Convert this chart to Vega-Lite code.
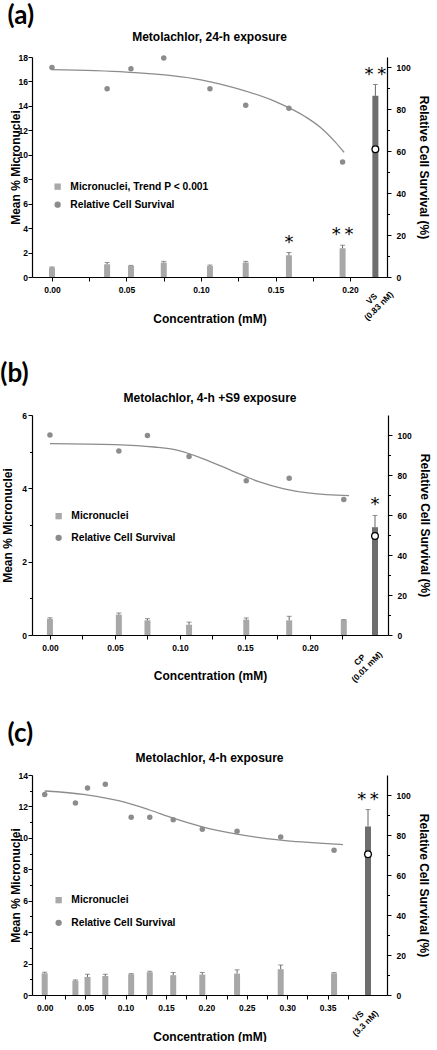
{
"$schema": "https://vega.github.io/schema/vega-lite/v6.json",
"padding": {"left": 0, "top": 3, "right": 0, "bottom": 0},
"background": "white",
"config": {
  "font": "Liberation Sans",
  "view": {"stroke": null},
  "axis": {"labelFont": "Liberation Sans", "labelFontWeight": "bold", "labelFontSize": 8.5, "labelColor": "#000", "titleFont": "Liberation Sans", "titleFontWeight": "bold", "titleFontSize": 12, "titleColor": "#000", "domainColor": "#000", "domainWidth": 1.2, "tickColor": "#000", "tickWidth": 1, "tickSize": 4, "grid": false, "labelFlush": false, "labelOverlap": false},
  "title": {"font": "Liberation Sans", "fontWeight": "bold", "fontSize": 12, "color": "#000"},
  "legend": {"title": null, "labelFont": "Liberation Sans", "labelFontWeight": "bold", "labelFontSize": 10.3, "labelColor": "#000", "symbolSize": 40, "labelOffset": 7.5, "padding": 0, "symbolStrokeWidth": 0, "symbolOpacity": 1}
},
"spacing": 36,
"resolve": {"scale": {"color": "independent", "shape": "independent"}},
"vconcat": [
 {
  "title": {"text": "(a)", "anchor": "start", "frame": "bounds", "font": "Lato", "fontSize": 26, "fontWeight": "bold", "offset": 2, "dx": -1.5},
  "resolve": {"scale": {"color": "independent", "shape": "independent"}},
  "vconcat": [
   {
    "title": {"text": "Metolachlor, 24-h exposure", "frame": "group", "offset": 9},
    "width": 355, "height": 220,
    "encoding": {"x": {"field": "conc", "type": "quantitative", "scale": {"domain": [-0.0134, 0.2248], "nice": false, "zero": false, "padding": 0}, "axis": {"values": [0, 0.025, 0.05, 0.075, 0.1, 0.125, 0.15, 0.175, 0.2], "tickCount": 100, "format": ".2f", "labelExpr": "round(datum.value*1000) % 50 === 0 ? datum.label : ''", "labelOverlap": false, "title": "Concentration (mM)", "titlePadding": 20, "labelPadding": 4}}},
    "resolve": {"scale": {"y": "independent"}},
    "layer": [
     {
      "data": {"values": [
        {"conc": 0, "mn": 0.77, "hi": 0.82, "grp": "test"},
        {"conc": 0.037, "mn": 1.04, "hi": 1.18, "grp": "test"},
        {"conc": 0.053, "mn": 0.9, "hi": 0.95, "grp": "test"},
        {"conc": 0.075, "mn": 1.18, "hi": 1.28, "grp": "test"},
        {"conc": 0.106, "mn": 0.9, "hi": 0.98, "grp": "test"},
        {"conc": 0.13, "mn": 1.18, "hi": 1.28, "grp": "test"},
        {"conc": 0.159, "mn": 1.78, "hi": 2.0, "grp": "test", "star": "*"},
        {"conc": 0.195, "mn": 2.35, "hi": 2.6, "grp": "test", "star": "*\u2009*"},
        {"conc": 0.217, "mn": 14.82, "hi": 15.75, "grp": "pc", "star": "*\u2009*", "lab": "VS\n(0.83 nM)"}
      ]},
      "layer": [
       {"transform": [{"filter": "datum.grp === 'test'"}], "mark": {"type": "bar", "size": 6},
        "encoding": {
          "y": {"field": "mn", "type": "quantitative", "scale": {"domain": [0, 18], "nice": false}, "axis": {"title": "Mean % Micronuclei", "values": [0, 2, 4, 6, 8, 10, 12, 14, 16, 18], "tickCount": 100, "format": "d", "labelOverlap": false, "labelPadding": 0.5, "titlePadding": -4}},
          "color": {"datum": "Micronuclei, Trend P < 0.001", "type": "nominal", "scale": {"domain": ["Micronuclei, Trend P < 0.001", "Relative Cell Survival"], "range": ["#a8a8a8", "#8c8c8c"]}, "legend": {"orient": "none", "legendX": 20.5, "legendY": 124.5, "rowPadding": 7}}}},
       {"transform": [{"filter": "datum.grp === 'pc'"}], "mark": {"type": "bar", "size": 6, "color": "#6e6e6e"}, "encoding": {"y": {"field": "mn", "type": "quantitative"}}},
       {"mark": {"type": "rule", "color": "#666", "strokeWidth": 1}, "encoding": {"y": {"field": "mn", "type": "quantitative"}, "y2": {"field": "hi"}}},
       {"mark": {"type": "tick", "orient": "horizontal", "size": 5, "thickness": 1, "color": "#666"}, "encoding": {"y": {"field": "hi", "type": "quantitative"}}},
       {"transform": [{"filter": "datum.star != null"}], "mark": {"type": "text", "font": "DejaVu Sans", "fontSize": 18, "baseline": "alphabetic", "dy": -5, "color": "#000"}, "encoding": {"y": {"field": "hi", "type": "quantitative"}, "text": {"field": "star"}}},
       {"transform": [{"filter": "datum.grp === 'pc'"}], "mark": {"type": "text", "angle": 315, "align": "center", "baseline": "top", "lineBreak": "\n", "lineHeight": 10, "fontSize": 8.5, "fontWeight": "bold", "dx": -18, "dy": 8.7, "color": "#000"}, "encoding": {"y": {"datum": 0}, "text": {"field": "lab"}}}
      ]
     },
     {
      "layer": [
       {"data": {"values": [
          {"conc": 0, "surv": 99.0}, {"conc": 0.05, "surv": 97.8}, {"conc": 0.1, "surv": 94.1}, {"conc": 0.122, "surv": 90.4}, {"conc": 0.15, "surv": 83.7}, {"conc": 0.17, "surv": 76.5}, {"conc": 0.18, "surv": 71.5}, {"conc": 0.19, "surv": 64.5}, {"conc": 0.196, "surv": 59.5}
        ]},
        "mark": {"type": "line", "color": "#8c8c8c", "strokeWidth": 1.3, "interpolate": "monotone"},
        "encoding": {"y": {"field": "surv", "type": "quantitative", "scale": {"domain": [0, 105], "nice": false}, "axis": {"orient": "right", "title": "Relative Cell Survival (%)", "titleAngle": 90, "values": [0, 10, 20, 30, 40, 50, 60, 70, 80, 90, 100], "tickCount": 100, "format": "d", "labelOverlap": false, "labelExpr": "datum.value % 20 === 0 ? datum.label : ''", "tickSize": {"condition": {"test": "datum.value % 20 === 0", "value": 4}, "value": 2.5}, "labelPadding": 5, "titlePadding": 6}}}},
       {"data": {"values": [
          {"conc": 0, "surv": 100, "grp": "test"}, {"conc": 0.037, "surv": 89.8, "grp": "test"}, {"conc": 0.053, "surv": 99.4, "grp": "test"}, {"conc": 0.075, "surv": 104.5, "grp": "test"}, {"conc": 0.106, "surv": 89.8, "grp": "test"}, {"conc": 0.13, "surv": 82, "grp": "test"}, {"conc": 0.159, "surv": 80.5, "grp": "test"}, {"conc": 0.195, "surv": 54.9, "grp": "test"}, {"conc": 0.217, "surv": 61, "grp": "pc"}
        ]},
        "layer": [
         {"transform": [{"filter": "datum.grp === 'test'"}], "mark": {"type": "point", "filled": true, "size": 30, "opacity": 1},
          "encoding": {"y": {"field": "surv", "type": "quantitative"},
            "color": {"datum": "Relative Cell Survival", "type": "nominal", "scale": {"domain": ["Micronuclei, Trend P < 0.001", "Relative Cell Survival"], "range": ["#a8a8a8", "#8c8c8c"]}, "legend": {"orient": "none", "legendX": 20.5, "legendY": 124.5, "rowPadding": 7}},
            "shape": {"datum": "Relative Cell Survival", "type": "nominal", "scale": {"domain": ["Micronuclei, Trend P < 0.001", "Relative Cell Survival"], "range": ["square", "circle"]}, "legend": {"orient": "none", "legendX": 20.5, "legendY": 124.5, "rowPadding": 7}}}},
         {"transform": [{"filter": "datum.grp === 'pc'"}], "mark": {"type": "circle", "fill": "#fff", "stroke": "#000", "strokeWidth": 1.3, "size": 45, "opacity": 1}, "encoding": {"y": {"field": "surv", "type": "quantitative"}}}
        ]}
      ]
     }
    ]
   }
  ]
 },
 {
  "spacing": 37,
  "resolve": {"scale": {"color": "independent", "shape": "independent"}},
  "vconcat": [
   {
    "title": {"text": "(b)", "anchor": "start", "frame": "bounds", "font": "Lato", "fontSize": 26, "fontWeight": "bold", "offset": 5, "dx": -1},
    "resolve": {"scale": {"color": "independent", "shape": "independent"}},
    "vconcat": [
     {
      "title": {"text": "Metolachlor, 4-h +S9 exposure", "frame": "group", "offset": 6},
      "width": 356, "height": 220,
      "encoding": {"x": {"field": "conc", "type": "quantitative", "scale": {"domain": [-0.0138, 0.26], "nice": false, "zero": false, "padding": 0}, "axis": {"values": [0, 0.025, 0.05, 0.075, 0.1, 0.125, 0.15, 0.175, 0.2, 0.225], "tickCount": 100, "format": ".2f", "labelExpr": "round(datum.value*1000) % 50 === 0 ? datum.label : ''", "labelOverlap": false, "title": "Concentration (mM)", "titlePadding": 18.7, "labelPadding": 4}}},
      "resolve": {"scale": {"y": "independent"}},
      "layer": [
       {
        "data": {"values": [
          {"conc": 0, "mn": 0.44, "hi": 0.47, "grp": "test"},
          {"conc": 0.053, "mn": 0.555, "hi": 0.6, "grp": "test"},
          {"conc": 0.075, "mn": 0.4, "hi": 0.445, "grp": "test"},
          {"conc": 0.107, "mn": 0.28, "hi": 0.35, "grp": "test"},
          {"conc": 0.151, "mn": 0.42, "hi": 0.465, "grp": "test"},
          {"conc": 0.184, "mn": 0.4, "hi": 0.51, "grp": "test"},
          {"conc": 0.226, "mn": 0.41, "hi": 0.42, "grp": "test"},
          {"conc": 0.25, "mn": 2.94, "hi": 3.26, "grp": "pc", "star": "*", "lab": "CP\n(0.01 mM)"}
        ]},
        "layer": [
         {"transform": [{"filter": "datum.grp === 'test'"}], "mark": {"type": "bar", "size": 6},
          "encoding": {
            "y": {"field": "mn", "type": "quantitative", "scale": {"domain": [0, 6], "nice": false}, "axis": {"title": "Mean % Micronuclei", "values": [0, 1, 2, 3, 4, 5, 6], "tickCount": 100, "format": "d", "labelOverlap": false, "labelExpr": "datum.value % 2 === 0 ? datum.label : ''", "tickSize": {"condition": {"test": "datum.value % 2 === 0", "value": 4}, "value": 2.5}, "labelPadding": 1.5, "titlePadding": 7.5}},
            "color": {"datum": "Micronuclei", "type": "nominal", "scale": {"domain": ["Micronuclei", "Relative Cell Survival"], "range": ["#a8a8a8", "#8c8c8c"]}, "legend": {"orient": "none", "legendX": 21.5, "legendY": 96, "rowPadding": 10.7}}}},
         {"transform": [{"filter": "datum.grp === 'pc'"}], "mark": {"type": "bar", "size": 6, "color": "#6e6e6e"}, "encoding": {"y": {"field": "mn", "type": "quantitative"}}},
         {"mark": {"type": "rule", "color": "#666", "strokeWidth": 1}, "encoding": {"y": {"field": "mn", "type": "quantitative"}, "y2": {"field": "hi"}}},
         {"mark": {"type": "tick", "orient": "horizontal", "size": 5, "thickness": 1, "color": "#666"}, "encoding": {"y": {"field": "hi", "type": "quantitative"}}},
         {"transform": [{"filter": "datum.star != null"}], "mark": {"type": "text", "font": "DejaVu Sans", "fontSize": 18, "baseline": "alphabetic", "dy": -5, "color": "#000"}, "encoding": {"y": {"field": "hi", "type": "quantitative"}, "text": {"field": "star"}}},
         {"transform": [{"filter": "datum.grp === 'pc'"}], "mark": {"type": "text", "angle": 315, "align": "center", "baseline": "top", "lineBreak": "\n", "lineHeight": 10, "fontSize": 8.5, "fontWeight": "bold", "dx": -28.3, "dy": 2.6, "color": "#000"}, "encoding": {"y": {"datum": 0}, "text": {"field": "lab"}}}
        ]
       },
       {
        "layer": [
         {"data": {"values": [
            {"conc": 0, "surv": 95.7}, {"conc": 0.05, "surv": 95.2}, {"conc": 0.08, "surv": 94.0}, {"conc": 0.1, "surv": 92.1}, {"conc": 0.12, "surv": 87.6}, {"conc": 0.14, "surv": 82.1}, {"conc": 0.16, "surv": 76.8}, {"conc": 0.18, "surv": 73.1}, {"conc": 0.2, "surv": 70.9}, {"conc": 0.23, "surv": 69.7}
          ]},
          "mark": {"type": "line", "color": "#8c8c8c", "strokeWidth": 1.3, "interpolate": "monotone"},
          "encoding": {"y": {"field": "surv", "type": "quantitative", "scale": {"domain": [0, 110], "nice": false}, "axis": {"orient": "right", "title": "Relative Cell Survival (%)", "titleAngle": 90, "values": [0, 10, 20, 30, 40, 50, 60, 70, 80, 90, 100], "tickCount": 100, "format": "d", "labelOverlap": false, "labelExpr": "datum.value % 20 === 0 ? datum.label : ''", "tickSize": {"condition": {"test": "datum.value % 20 === 0", "value": 4}, "value": 2.5}, "labelPadding": 5, "titlePadding": 6}}}},
         {"data": {"values": [
            {"conc": 0, "surv": 100, "grp": "test"}, {"conc": 0.053, "surv": 92, "grp": "test"}, {"conc": 0.075, "surv": 99.7, "grp": "test"}, {"conc": 0.107, "surv": 89.3, "grp": "test"}, {"conc": 0.151, "surv": 77.1, "grp": "test"}, {"conc": 0.184, "surv": 78.4, "grp": "test"}, {"conc": 0.226, "surv": 67.7, "grp": "test"}, {"conc": 0.25, "surv": 49.5, "grp": "pc"}
          ]},
          "layer": [
           {"transform": [{"filter": "datum.grp === 'test'"}], "mark": {"type": "point", "filled": true, "size": 30, "opacity": 1},
            "encoding": {"y": {"field": "surv", "type": "quantitative"},
              "color": {"datum": "Relative Cell Survival", "type": "nominal", "scale": {"domain": ["Micronuclei", "Relative Cell Survival"], "range": ["#a8a8a8", "#8c8c8c"]}, "legend": {"orient": "none", "legendX": 21.5, "legendY": 96, "rowPadding": 10.7}},
              "shape": {"datum": "Relative Cell Survival", "type": "nominal", "scale": {"domain": ["Micronuclei", "Relative Cell Survival"], "range": ["square", "circle"]}, "legend": {"orient": "none", "legendX": 21.5, "legendY": 96, "rowPadding": 10.7}}}},
           {"transform": [{"filter": "datum.grp === 'pc'"}], "mark": {"type": "circle", "fill": "#fff", "stroke": "#000", "strokeWidth": 1.3, "size": 45, "opacity": 1}, "encoding": {"y": {"field": "surv", "type": "quantitative"}}}
          ]}
        ]
       }
      ]
     }
    ]
   },
   {
    "title": {"text": "(c)", "anchor": "start", "frame": "bounds", "font": "Lato", "fontSize": 26, "fontWeight": "bold", "offset": 5, "dx": -1.5},
    "resolve": {"scale": {"color": "independent", "shape": "independent"}},
    "vconcat": [
     {
      "title": {"text": "Metolachlor, 4-h exposure", "frame": "group", "offset": 6},
      "width": 355, "height": 220,
      "encoding": {"x": {"field": "conc", "type": "quantitative", "scale": {"domain": [-0.0157, 0.4235], "nice": false, "zero": false, "padding": 0}, "axis": {"values": [0, 0.025, 0.05, 0.075, 0.1, 0.125, 0.15, 0.175, 0.2, 0.225, 0.25, 0.275, 0.3, 0.325, 0.35, 0.375], "tickCount": 100, "format": ".2f", "labelExpr": "round(datum.value*1000) % 50 === 0 ? datum.label : ''", "labelOverlap": false, "title": "Concentration (mM)", "titlePadding": 19.5, "labelPadding": 4}}},
      "resolve": {"scale": {"y": "independent"}},
      "layer": [
       {
        "data": {"values": [
          {"conc": 0, "mn": 1.38, "hi": 1.45, "grp": "test"},
          {"conc": 0.038, "mn": 0.91, "hi": 0.96, "grp": "test"},
          {"conc": 0.053, "mn": 1.15, "hi": 1.32, "grp": "test"},
          {"conc": 0.075, "mn": 1.21, "hi": 1.32, "grp": "test"},
          {"conc": 0.107, "mn": 1.32, "hi": 1.36, "grp": "test"},
          {"conc": 0.13, "mn": 1.45, "hi": 1.51, "grp": "test"},
          {"conc": 0.159, "mn": 1.26, "hi": 1.43, "grp": "test"},
          {"conc": 0.195, "mn": 1.3, "hi": 1.43, "grp": "test"},
          {"conc": 0.238, "mn": 1.36, "hi": 1.6, "grp": "test"},
          {"conc": 0.292, "mn": 1.64, "hi": 1.91, "grp": "test"},
          {"conc": 0.358, "mn": 1.38, "hi": 1.43, "grp": "test"},
          {"conc": 0.4, "mn": 10.72, "hi": 11.8, "grp": "pc", "star": "*\u2009*", "lab": "VS\n(3.3 nM)"}
        ]},
        "layer": [
         {"transform": [{"filter": "datum.grp === 'test'"}], "mark": {"type": "bar", "size": 6},
          "encoding": {
            "y": {"field": "mn", "type": "quantitative", "scale": {"domain": [0, 14], "nice": false}, "axis": {"title": "Mean % Micronuclei", "values": [0, 1, 2, 3, 4, 5, 6, 7, 8, 9, 10, 11, 12, 13, 14], "tickCount": 100, "format": "d", "labelOverlap": false, "labelExpr": "datum.value % 2 === 0 ? datum.label : ''", "tickSize": {"condition": {"test": "datum.value % 2 === 0", "value": 4}, "value": 2.5}, "labelPadding": 0.5, "titlePadding": -4}},
            "color": {"datum": "Micronuclei", "type": "nominal", "scale": {"domain": ["Micronuclei", "Relative Cell Survival"], "range": ["#a8a8a8", "#8c8c8c"]}, "legend": {"orient": "none", "legendX": 21.5, "legendY": 120, "rowPadding": 11.7}}}},
         {"transform": [{"filter": "datum.grp === 'pc'"}], "mark": {"type": "bar", "size": 6, "color": "#6e6e6e"}, "encoding": {"y": {"field": "mn", "type": "quantitative"}}},
         {"mark": {"type": "rule", "color": "#666", "strokeWidth": 1}, "encoding": {"y": {"field": "mn", "type": "quantitative"}, "y2": {"field": "hi"}}},
         {"mark": {"type": "tick", "orient": "horizontal", "size": 5, "thickness": 1, "color": "#666"}, "encoding": {"y": {"field": "hi", "type": "quantitative"}}},
         {"transform": [{"filter": "datum.star != null"}], "mark": {"type": "text", "font": "DejaVu Sans", "fontSize": 18, "baseline": "alphabetic", "dy": -5, "color": "#000"}, "encoding": {"y": {"field": "hi", "type": "quantitative"}, "text": {"field": "star"}}},
         {"transform": [{"filter": "datum.grp === 'pc'"}], "mark": {"type": "text", "angle": 315, "align": "center", "baseline": "top", "lineBreak": "\n", "lineHeight": 10, "fontSize": 8.5, "fontWeight": "bold", "dx": -21.9, "dy": 4.1, "color": "#000"}, "encoding": {"y": {"datum": 0}, "text": {"field": "lab"}}}
        ]
       },
       {
        "layer": [
         {"data": {"values": [
            {"conc": 0, "surv": 102.0}, {"conc": 0.05, "surv": 100.2}, {"conc": 0.1, "surv": 96.3}, {"conc": 0.13, "surv": 92.5}, {"conc": 0.159, "surv": 88.4}, {"conc": 0.195, "surv": 84.1}, {"conc": 0.238, "surv": 80.4}, {"conc": 0.292, "surv": 77.4}, {"conc": 0.36, "surv": 75.4}, {"conc": 0.369, "surv": 75.2}
          ]},
          "mark": {"type": "line", "color": "#8c8c8c", "strokeWidth": 1.3, "interpolate": "monotone"},
          "encoding": {"y": {"field": "surv", "type": "quantitative", "scale": {"domain": [0, 110], "nice": false}, "axis": {"orient": "right", "title": "Relative Cell Survival (%)", "titleAngle": 90, "values": [0, 10, 20, 30, 40, 50, 60, 70, 80, 90, 100], "tickCount": 100, "format": "d", "labelOverlap": false, "labelExpr": "datum.value % 20 === 0 ? datum.label : ''", "tickSize": {"condition": {"test": "datum.value % 20 === 0", "value": 4}, "value": 2.5}, "labelPadding": 5, "titlePadding": 6}}}},
         {"data": {"values": [
            {"conc": 0, "surv": 100.3, "grp": "test"}, {"conc": 0.038, "surv": 96, "grp": "test"}, {"conc": 0.053, "surv": 103.5, "grp": "test"}, {"conc": 0.075, "surv": 105.4, "grp": "test"}, {"conc": 0.107, "surv": 88.9, "grp": "test"}, {"conc": 0.13, "surv": 88.9, "grp": "test"}, {"conc": 0.159, "surv": 87.6, "grp": "test"}, {"conc": 0.195, "surv": 82.9, "grp": "test"}, {"conc": 0.238, "surv": 81.9, "grp": "test"}, {"conc": 0.292, "surv": 79, "grp": "test"}, {"conc": 0.358, "surv": 72.4, "grp": "test"}, {"conc": 0.4, "surv": 70.4, "grp": "pc"}
          ]},
          "layer": [
           {"transform": [{"filter": "datum.grp === 'test'"}], "mark": {"type": "point", "filled": true, "size": 30, "opacity": 1},
            "encoding": {"y": {"field": "surv", "type": "quantitative"},
              "color": {"datum": "Relative Cell Survival", "type": "nominal", "scale": {"domain": ["Micronuclei", "Relative Cell Survival"], "range": ["#a8a8a8", "#8c8c8c"]}, "legend": {"orient": "none", "legendX": 21.5, "legendY": 120, "rowPadding": 11.7}},
              "shape": {"datum": "Relative Cell Survival", "type": "nominal", "scale": {"domain": ["Micronuclei", "Relative Cell Survival"], "range": ["square", "circle"]}, "legend": {"orient": "none", "legendX": 21.5, "legendY": 120, "rowPadding": 11.7}}}},
           {"transform": [{"filter": "datum.grp === 'pc'"}], "mark": {"type": "circle", "fill": "#fff", "stroke": "#000", "strokeWidth": 1.3, "size": 45, "opacity": 1}, "encoding": {"y": {"field": "surv", "type": "quantitative"}}}
          ]}
        ]
       }
      ]
     }
    ]
   }
  ]
 }
]
}
